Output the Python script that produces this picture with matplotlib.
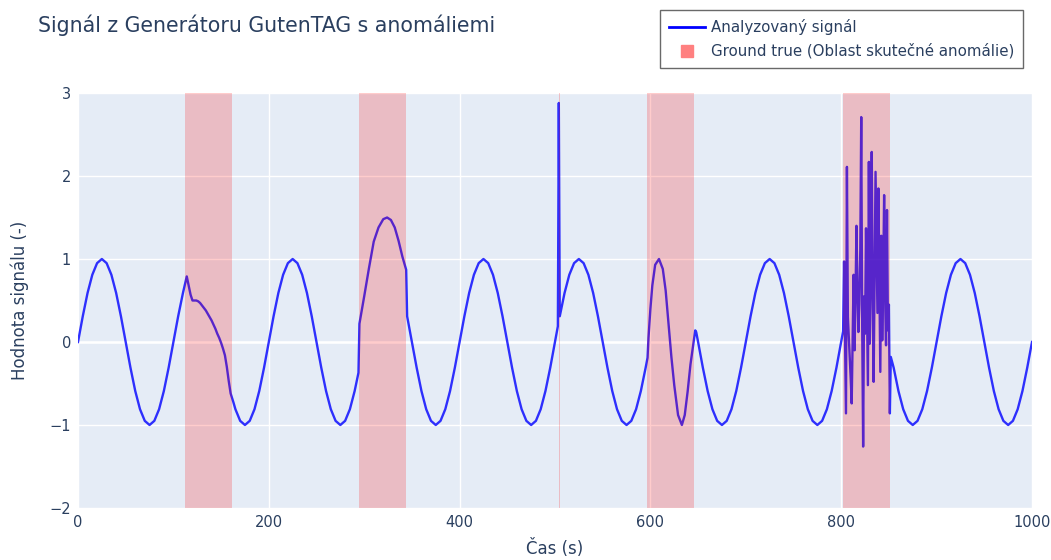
import numpy as np
import matplotlib.pyplot as plt
from matplotlib.lines import Line2D

# undisturbed sine parts, sampled every 5 s
t_base1 = list(range(0, 111, 5))
y_base1 = [0.0, 0.31, 0.59, 0.81, 0.95, 1.0, 0.95, 0.81, 0.59, 0.31, 0.0, -0.31,
           -0.59, -0.81, -0.95, -1.0, -0.95, -0.81, -0.59, -0.31, 0.0, 0.31, 0.59]

# anomaly 1 - flattened, slower decay
t_anom1 = [112, 114, 116, 118, 120, 122, 124, 126, 128, 130, 132, 134, 136,
           138, 140, 142, 144, 146, 148, 150, 152, 154, 156, 158, 160, 163]
y_anom1 = [0.69, 0.79, 0.68, 0.57, 0.50, 0.50, 0.50, 0.49, 0.47, 0.44, 0.41,
           0.38, 0.34, 0.30, 0.26, 0.21, 0.16, 0.10, 0.05, -0.01, -0.08, -0.16,
           -0.30, -0.47, -0.62, -0.73]

t_base2 = list(range(165, 291, 5))
y_base2 = [-0.81, -0.95, -1.0, -0.95, -0.81, -0.59, -0.31, 0.0, 0.31, 0.59, 0.81,
           0.95, 1.0, 0.95, 0.81, 0.59, 0.31, 0.0, -0.31, -0.59, -0.81, -0.95,
           -1.0, -0.95, -0.81, -0.59]

# anomaly 2 - amplitude jump
t_anom2 = [294, 295, 300, 305, 310, 315, 320, 324, 328, 332, 336, 340, 344, 345]
y_anom2 = [-0.37, 0.22, 0.55, 0.89, 1.21, 1.38, 1.48, 1.50, 1.47, 1.38, 1.22,
           1.03, 0.87, 0.31]

t_base3 = list(range(350, 501, 5))
y_base3 = [0.0, -0.31, -0.59, -0.81, -0.95, -1.0, -0.95, -0.81, -0.59, -0.31,
           0.0, 0.31, 0.59, 0.81, 0.95, 1.0, 0.95, 0.81, 0.59, 0.31, 0.0, -0.31,
           -0.59, -0.81, -0.95, -1.0, -0.95, -0.81, -0.59, -0.31, 0.0]

# anomaly 3 - single spike
t_anom3 = [503, 504, 505]
y_anom3 = [0.19, 2.88, 0.31]

t_base4 = list(range(510, 596, 5))
y_base4 = [0.59, 0.81, 0.95, 1.0, 0.95, 0.81, 0.59, 0.31, 0.0, -0.31, -0.59,
           -0.81, -0.95, -1.0, -0.95, -0.81, -0.59, -0.31]

# anomaly 4 - doubled frequency
t_anom4 = [597, 598, 600, 602, 605, 609, 613, 616, 619, 622, 625, 629, 633,
           636, 639, 642, 645, 647, 648]
y_anom4 = [-0.19, 0.05, 0.40, 0.68, 0.93, 1.00, 0.88, 0.62, 0.22, -0.18, -0.52,
           -0.88, -1.00, -0.88, -0.60, -0.27, -0.02, 0.14, 0.12]

t_base5 = list(range(650, 801, 5))
y_base5 = [0.0, -0.31, -0.59, -0.81, -0.95, -1.0, -0.95, -0.81, -0.59, -0.31,
           0.0, 0.31, 0.59, 0.81, 0.95, 1.0, 0.95, 0.81, 0.59, 0.31, 0.0, -0.31,
           -0.59, -0.81, -0.95, -1.0, -0.95, -0.81, -0.59, -0.31, 0.0]

# anomaly 5 - noise burst, one sample per second
t_anom5 = list(range(802, 852))
y_anom5 = [0.13, 0.97, 0.10, -0.86, 2.11, 0.30, 0.05, -0.20, -0.45, -0.74,
           0.05, 0.81, -0.10, 0.55, 1.40, 0.67, 0.12, 0.45, 1.10, 2.71,
           0.20, -1.26, 0.55, 0.10, 1.37, 0.45, -0.52, 2.17, -0.02, 0.90,
           2.29, 0.60, -0.48, 0.75, 2.05, 1.19, 0.35, 1.85, 0.80, -0.36,
           1.28, 0.02, 0.75, 1.77, 0.55, -0.04, 1.59, 0.14, 0.45, -0.86]

t_base6 = [852] + list(range(855, 1001, 5))
y_base6 = [-0.18, -0.31, -0.59, -0.81, -0.95, -1.0, -0.95, -0.81, -0.59, -0.31,
           0.0, 0.31, 0.59, 0.81, 0.95, 1.0, 0.95, 0.81, 0.59, 0.31, 0.0, -0.31,
           -0.59, -0.81, -0.95, -1.0, -0.95, -0.81, -0.59, -0.31, 0.0]

cas = np.concatenate([t_base1, t_anom1, t_base2, t_anom2, t_base3, t_anom3,
                      t_base4, t_anom4, t_base5, t_anom5, t_base6])
signal = np.concatenate([y_base1, y_anom1, y_base2, y_anom2, y_base3, y_anom3,
                         y_base4, y_anom4, y_base5, y_anom5, y_base6])

# ground truth anomaly ranges
anom_start = [112, 295, 504, 596, 802]
anom_end = [161, 344, 505, 646, 851]

plt.rcParams['font.family'] = ['DejaVu Sans']
text_col = '#2a3f5f'

fig = plt.figure(figsize=(10.51, 5.6), dpi=100)
ax = fig.add_axes([78 / 1051, 52 / 560, 954 / 1051, 415 / 560])
ax.set_facecolor('#e5ecf6')
for s in ax.spines.values():
    s.set_visible(False)
ax.grid(True, color='white', linewidth=1)
ax.set_axisbelow(True)
ax.axhline(0, color='white', lw=1.8, zorder=1)

ax.plot(cas, signal, color='blue', alpha=0.8, lw=1.7, zorder=2)
for a, b in zip(anom_start, anom_end):
    ax.axvspan(a, b, facecolor='red', alpha=0.2, lw=0, zorder=3)

ax.set_xlim(0, 1000)
ax.set_ylim(-2, 3)
ax.set_xticks(range(0, 1001, 200))
ax.set_yticks(range(-2, 4))
ax.tick_params(length=0, labelsize=10.5, labelcolor=text_col, pad=5)

fig.text(38 / 1051, 1 - 25 / 560, 'Signál z Generátoru GutenTAG s anomáliemi',
         fontsize=14.8, color=text_col, va='center', ha='left')
fig.text(0.5 * (78 + 1032) / 1051, 1 - 548 / 560, 'Čas (s)',
         fontsize=12, color=text_col, ha='center', va='center')
fig.text(20 / 1051, 1 - 300 / 560, 'Hodnota signálu (-)', rotation=90,
         fontsize=12, color=text_col, ha='center', va='center')

handles = [Line2D([], [], color='blue', lw=2),
           Line2D([], [], color='#ff8080', marker='s', ms=8, ls='none')]
labels = ['Analyzovaný signál', 'Ground true (Oblast skutečné anomálie)']
leg = fig.legend(handles, labels, loc='upper left',
                 bbox_to_anchor=(660 / 1051, 1 - 10 / 560), fontsize=10.8,
                 frameon=True, fancybox=False, edgecolor='#444444',
                 handlelength=2.4, handletextpad=0.4, borderpad=0.6,
                 labelspacing=0.55, borderaxespad=0)
leg.get_frame().set_linewidth(1)
for t in leg.get_texts():
    t.set_color(text_col)

fig.savefig('out.png', dpi=100)
